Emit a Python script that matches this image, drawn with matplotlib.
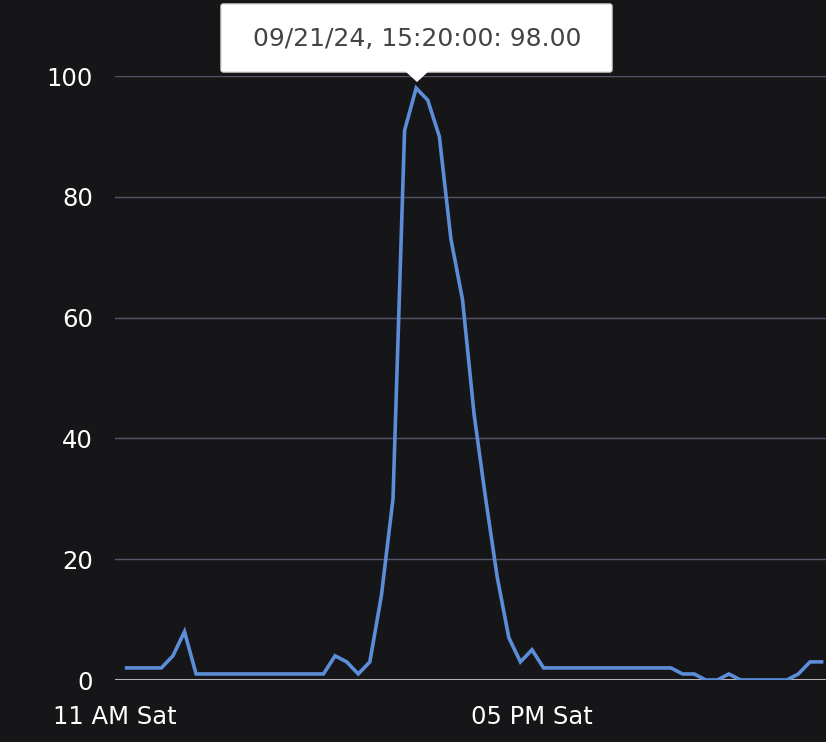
import numpy as np
import pandas as pd
import matplotlib
matplotlib.use("Agg")
import matplotlib.pyplot as plt
import matplotlib.dates as mdates
from matplotlib.patches import Polygon, FancyBboxPatch

# 10-minute samples starting 11:10 on Sat 09/21/24
times = pd.date_range("2024-09-21 11:10", periods=61, freq="10min")
values = [2, 2, 2, 2, 4, 8, 1, 1, 1, 1, 1, 1, 1, 1, 1, 1, 1, 1,
          4, 3, 1, 3, 14, 30, 91, 98, 96, 90, 73, 63, 44, 30, 17, 7, 3, 5,
          2, 2, 2, 2, 2, 2, 2, 2, 2, 2, 2, 2,
          1, 1, 0, 0, 1, 0, 0, 0, 0, 0, 1, 3, 3, 3]
values = values[:len(times)]
times = times[:len(values)]
yticks = [0, 20, 40, 60, 80, 100]
tooltip = "09/21/24, 15:20:00: 98.00"

bg = "#161619"
fig = plt.figure(figsize=(8.26, 7.42), dpi=100, facecolor=bg)
W, H = 826, 742
ax = fig.add_axes([115 / W, (H - 680) / H, (W - 115) / W, (680 - 76) / H])
ax.set_facecolor(bg)

for y in yticks[1:]:
    ax.axhline(y, color="#55556a", lw=1, zorder=1)
ax.axhline(0, color="#b4b4b8", lw=2.2, zorder=1)

ax.plot(times, values, color="#5b8dd8", lw=2.6, zorder=3, solid_joinstyle="miter")

start = pd.Timestamp("2024-09-21 11:00")
end = start + pd.Timedelta(hours=(W - 115) / 69.5)
ax.set_xlim(start, end)
ax.set_ylim(0, 100)
ax.set_yticks(yticks)
ax.set_xticks([start, pd.Timestamp("2024-09-21 17:00")])
ax.xaxis.set_major_formatter(mdates.DateFormatter("%I %p Sat"))
ax.tick_params(colors="white", labelsize=17.5, length=0)
ax.tick_params(axis="y", pad=16)
ax.tick_params(axis="x", pad=18)
for s in ax.spines.values():
    s.set_visible(False)

# tooltip box with pointer
box = FancyBboxPatch((221 / W, (H - 72) / H), (612 - 221) / W, 68 / H,
                     boxstyle="round,pad=0,rounding_size=0.003",
                     transform=fig.transFigure, facecolor="white",
                     edgecolor="#dddddd", lw=1, zorder=5)
fig.patches.append(box)
tri = Polygon([(405 / W, (H - 71) / H), (429 / W, (H - 71) / H), (417 / W, (H - 82) / H)],
              closed=True, transform=fig.transFigure, facecolor="white",
              edgecolor="none", zorder=6)
fig.patches.append(tri)
fig.text(417 / W, (H - 39) / H, tooltip, ha="center", va="center",
         color="#444444", fontsize=18, zorder=7)

fig.savefig("out.png", dpi=100, facecolor=bg)
